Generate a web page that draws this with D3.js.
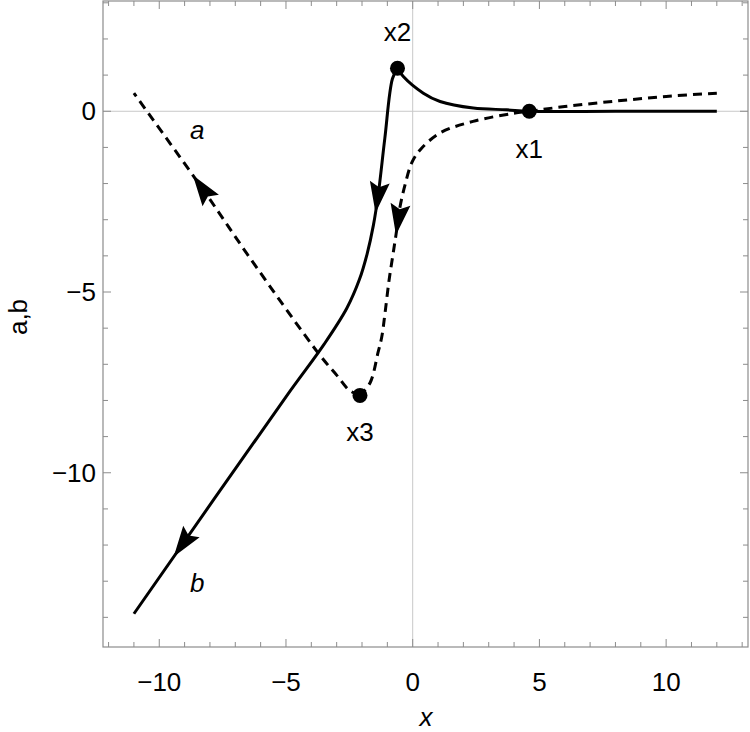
<!DOCTYPE html>
<html lang="en">
<head>
<meta charset="UTF-8">
<title>a, b</title>
<style>
  body { margin: 0; background: #fff; }
  svg text { font-family: "Liberation Sans", Arial, sans-serif; fill: #000; }
</style>
</head>
<body>
<svg id="chart" width="750" height="732"></svg>
<script src="https://cdn.jsdelivr.net/npm/d3@7/dist/d3.min.js"></script>
<script>
// curve a (dashed): right end -> x1 -> x3, then x3 -> left end
var aRight = [[12, 0.5], [10, 0.41], [8, 0.28], [6, 0.13], [4.6, 0], [3.96, -0.06], [2.38, -0.28], [1.08, -0.6], [0.29, -1.07], [-0.04, -1.43], [-0.3, -2.03], [-0.5, -2.64], [-0.66, -3.42], [-0.78, -3.97], [-0.93, -4.66], [-1.09, -5.57], [-1.22, -6.24], [-1.37, -6.68], [-1.68, -7.51], [-2.08, -7.86]];
var aLeft = [[-2.08, -7.86], [-2.5, -7.72], [-3.0, -7.3], [-3.66, -6.75], [-6.42, -4.06], [-8.19, -2.25], [-11, 0.5]];
// curve b (solid): right end -> x1 -> x2, then x2 -> lower left end
var bRight = [[12, 0], [8, 0], [4.6, 0], [3.71, 0.04], [2.39, 0.09], [1.08, 0.27], [0.42, 0.5], [-0.37, 0.96], [-0.6, 1.19]];
var bLeft = [[-0.6, 1.19], [-0.8, 0.9], [-1.1, -0.75], [-1.36, -2.3], [-1.55, -3.15], [-1.8, -3.95], [-2.1, -4.65], [-2.6, -5.45], [-3.5, -6.45], [-5, -7.9], [-11, -13.9]];

// marked points
var pointNames = ["x1", "x2", "x3"];
var pointXY = [[4.6, 0], [-0.6, 1.19], [-2.08, -7.86]];

// arrow tips (curve index, x, y)
var arrowTips = [[3, -1.49, -2.81], [3, -9.44, -12.32], [0, -0.66, -3.42], [1, -8.66, -1.76]];

// curve labels
var curveNames = ["a", "b"];
var curveLabelXY = [[-8.5, -0.77], [-8.5, -13.3]];

var xTicks = [-10, -5, 0, 5, 10];
var yTicks = [-10, -5, 0];
var xMinor = d3.range(-12, 14);
var yMinor = d3.range(-14, 4);

var pLeft = 103, pRight = 748, pTop = 1, pBottom = 647;

var svg = d3.select("#chart");

var x = d3.scaleLinear().domain([-12.22, 13.23]).range([pLeft, pRight]);
var y = d3.scaleLinear().domain([-14.82, 3.05]).range([pBottom, pTop]);

// grid lines at zero
svg.append("line").attr("x1", x(0)).attr("x2", x(0)).attr("y1", pTop).attr("y2", pBottom)
    .attr("stroke", "#c8c8c8").attr("stroke-width", 1);
svg.append("line").attr("x1", pLeft).attr("x2", pRight).attr("y1", y(0)).attr("y2", y(0))
    .attr("stroke", "#c8c8c8").attr("stroke-width", 1);

// frame with inward ticks on all sides
var frameColor = "#8c8c8c";
function tickLen(v) { return v % 5 === 0 ? 8 : 5; }

var ticks = svg.append("g").attr("stroke", frameColor).attr("stroke-width", 1);
ticks.selectAll(".tb").data(xMinor).enter().append("line")
    .attr("x1", function (d) { return x(d); }).attr("x2", function (d) { return x(d); })
    .attr("y1", pBottom).attr("y2", function (d) { return pBottom - tickLen(d); });
ticks.selectAll(".tt").data(xMinor).enter().append("line")
    .attr("x1", function (d) { return x(d); }).attr("x2", function (d) { return x(d); })
    .attr("y1", pTop).attr("y2", function (d) { return pTop + tickLen(d); });
ticks.selectAll(".tl").data(yMinor).enter().append("line")
    .attr("y1", function (d) { return y(d); }).attr("y2", function (d) { return y(d); })
    .attr("x1", pLeft).attr("x2", function (d) { return pLeft + tickLen(d); });
ticks.selectAll(".tr").data(yMinor).enter().append("line")
    .attr("y1", function (d) { return y(d); }).attr("y2", function (d) { return y(d); })
    .attr("x1", pRight).attr("x2", function (d) { return pRight - tickLen(d); });

svg.append("rect").attr("x", pLeft).attr("y", pTop).attr("width", pRight - pLeft).attr("height", pBottom - pTop)
    .attr("fill", "none").attr("stroke", frameColor).attr("stroke-width", 1.2);

// tick labels
var fmt = d3.format("d");
svg.selectAll(".xl").data(xTicks).enter().append("text")
    .attr("x", function (d) { return x(d); }).attr("y", 691)
    .attr("text-anchor", "middle").attr("font-size", 26)
    .text(function (d) { return fmt(d); });
svg.selectAll(".yl").data(yTicks).enter().append("text")
    .attr("x", 96).attr("y", function (d) { return y(d); })
    .attr("dy", "0.35em").attr("text-anchor", "end").attr("font-size", 26)
    .text(function (d) { return fmt(d); });

// axis titles
svg.append("text").attr("x", 426).attr("y", 726).attr("text-anchor", "middle")
    .attr("font-size", 26).attr("font-style", "italic").text("x");
svg.append("text").attr("transform", "translate(27,317) rotate(-90)").attr("text-anchor", "middle")
    .attr("font-size", 26).text("a,b");

// curves
var line = d3.line().x(function (d) { return x(d[0]); }).y(function (d) { return y(d[1]); })
    .curve(d3.curveCatmullRom.alpha(0.5));

var curves = [aRight, aLeft, bRight, bLeft];
var dashed = [true, true, false, false];
var paths = [];
curves.forEach(function (c, i) {
    var p = svg.append("path").attr("d", line(c)).attr("fill", "none")
        .attr("stroke", "#000").attr("stroke-width", 3)
        .attr("stroke-dasharray", dashed[i] ? "9,6" : null);
    paths.push(p.node());
});

// arrowheads placed along the curve direction
var L = 31, W = 10;
arrowTips.forEach(function (t) {
    var node = paths[t[0]];
    var total = node.getTotalLength();
    var px = x(t[1]), py = y(t[2]);
    var best = 0, bestD = Infinity;
    for (var s = 0; s <= total; s += 0.5) {
        var q = node.getPointAtLength(s);
        var dd = (q.x - px) * (q.x - px) + (q.y - py) * (q.y - py);
        if (dd < bestD) { bestD = dd; best = s; }
    }
    var tip = node.getPointAtLength(best);
    var back = node.getPointAtLength(Math.max(0, best - L));
    var ang = Math.atan2(tip.y - back.y, tip.x - back.x) * 180 / Math.PI;
    svg.append("path")
        .attr("d", "M0,0 L" + (-L) + "," + (-W) + " L" + (-L * 0.84) + ",0 L" + (-L) + "," + W + " Z")
        .attr("transform", "translate(" + tip.x + "," + tip.y + ") rotate(" + ang + ")")
        .attr("fill", "#000");
});

// marked points
svg.selectAll(".pt").data(pointXY).enter().append("circle")
    .attr("cx", function (d) { return x(d[0]); }).attr("cy", function (d) { return y(d[1]); })
    .attr("r", 7.5).attr("fill", "#000");

var pointLabelDy = [47, -27, 46];
svg.selectAll(".ptl").data(pointXY).enter().append("text")
    .attr("x", function (d) { return x(d[0]); })
    .attr("y", function (d, i) { return y(d[1]) + pointLabelDy[i]; })
    .attr("text-anchor", "middle").attr("font-size", 26)
    .text(function (d, i) { return pointNames[i]; });

svg.selectAll(".cl").data(curveLabelXY).enter().append("text")
    .attr("x", function (d) { return x(d[0]); }).attr("y", function (d) { return y(d[1]); })
    .attr("text-anchor", "middle").attr("font-size", 26).attr("font-style", "italic")
    .text(function (d, i) { return curveNames[i]; });
</script>
</body>
</html>
